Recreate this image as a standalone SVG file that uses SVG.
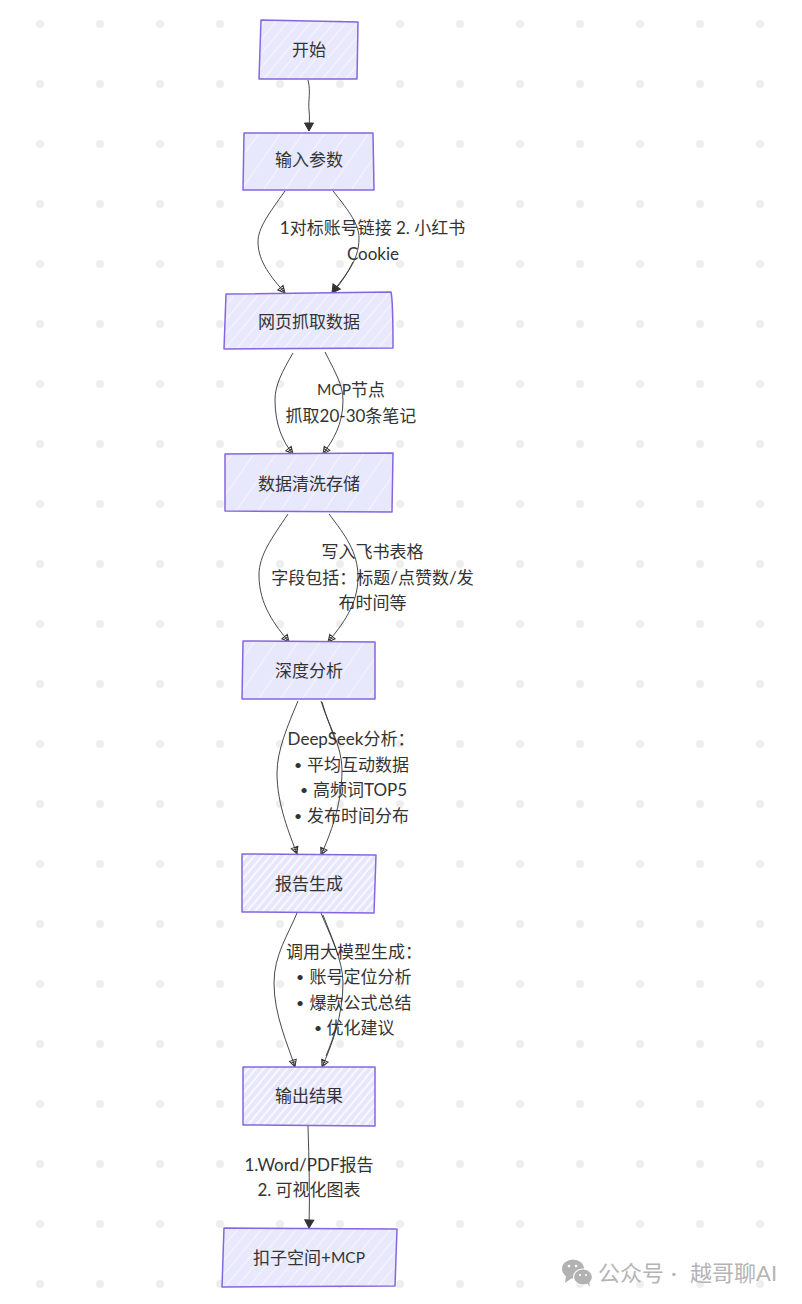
<svg xmlns="http://www.w3.org/2000/svg" width="802" height="1304" viewBox="0 0 802 1304">
<style>
text{font-family:"Lato","Noto Sans CJK SC",sans-serif;font-size:17px;fill:#333;text-anchor:middle;dominant-baseline:central}
.l{text-anchor:start}
.b{font-size:14px}
.m{font-size:15.500px}
.n{stroke:#8566e0;stroke-width:1.500;stroke-linejoin:round}
.e{fill:none;stroke:#333;stroke-width:.9}
.wm{font-size:22px;fill:#b4b4b4;text-anchor:start}
</style>
<defs>
<pattern id="dots" width="60" height="60" patternUnits="userSpaceOnUse"><circle cx="40" cy="24" r="4" fill="#eee"/></pattern>
<pattern id="h1" width="9" height="9" patternUnits="userSpaceOnUse" patternTransform="rotate(-50)"><rect width="9" height="9" fill="#e9e9fd"/><rect width="9" height="0.9" fill="#f7f7ff"/></pattern>
<pattern id="h2" width="18" height="18" patternUnits="userSpaceOnUse" patternTransform="rotate(-55)"><rect width="18" height="18" fill="#e8e8fd"/><rect width="18" height="0.9" fill="#f6f6ff"/></pattern>
<pattern id="h3" width="6" height="6" patternUnits="userSpaceOnUse" patternTransform="rotate(-50)"><rect width="6" height="6" fill="#e6e6fc"/><rect width="6" height="2" fill="#f8f8ff"/></pattern>
<marker id="s" markerWidth="10" markerHeight="12" refX="9" refY="6" orient="auto" markerUnits="userSpaceOnUse"><path d="M1,1.500L9,6L1,10.500Z" fill="#333" stroke="#333"/></marker>
<marker id="o" markerWidth="10" markerHeight="10" refX="9" refY="5" orient="auto" markerUnits="userSpaceOnUse"><path d="M2,1.500L9,5L2,8.500ZM4,2.500L4,7.500M6,3.500L6,6.500" fill="none" stroke="#333" stroke-width="1"/></marker>
</defs>
<rect width="802" height="1304" fill="#fff"/>
<rect width="802" height="1304" fill="url(#dots)"/>
<g id="connectors">
<path class="e" marker-end="url(#s)" d="M308,80C311,92 308,100 309,110C310,118 309,124 309,131"/>
<path class="e" marker-end="url(#o)" d="M285,191C268,215 258,228 258,242C258,262 272,278 285,293"/>
<path class="e" marker-end="url(#s)" d="M333,191C350,212 359,225 359,238C359,262 345,275 332,293"/>
<path class="e" d="M353,262C348,272 342,282 334,291"/>
<path class="e" marker-end="url(#o)" d="M293,353C282,372 275,385 275,400C275,425 283,442 293,454"/>
<path class="e" marker-end="url(#o)" d="M325,352C335,372 343,385 343,400C343,425 333,440 323,454"/>
<path class="e" marker-end="url(#o)" d="M288,514C272,538 259,555 259,575C259,605 275,625 289,642"/>
<path class="e" marker-end="url(#o)" d="M329,514C345,535 358,552 358,577C358,605 342,625 328,642"/>
<path class="e" marker-end="url(#o)" d="M298,701C288,725 277,750 277,773C277,805 290,835 297,854"/>
<path class="e" marker-end="url(#o)" d="M321,701C328,725 342,745 342,770C342,805 330,835 321,855"/>
<path class="e" d="M322,702C326,716 331,728 335,740"/>
<path class="e" marker-end="url(#o)" d="M297,913C288,935 274,955 274,983C274,1015 288,1045 295,1067"/>
<path class="e" marker-end="url(#o)" d="M321,913C330,935 343,960 343,983C343,1015 332,1045 322,1067"/>
<path class="e" d="M323,915C328,928 334,942 338,955"/>
<path class="e" d="M337,1025C334,1036 330,1046 326,1056"/>
<path class="e" marker-end="url(#s)" d="M308,1126C309,1160 310,1195 309,1228"/>
</g>
<g id="n1"><path class="n" fill="url(#h1)" d="M261,20L358,22L357,79L259,79Z"/><text x="309" y="49.500">开始</text></g>
<g id="n2"><path class="n" fill="url(#h2)" d="M244,133L373,133L374,190L243,190Z"/><text x="309" y="159">输入参数</text></g>
<g id="n3"><path class="n" fill="url(#h1)" d="M226,294L391,292Q393,300 393,348L224,349Z"/><text x="309" y="321">网页抓取数据</text></g>
<g id="n4"><path class="n" fill="url(#h2)" d="M225,454L393,453L392,512L225,511Z"/><text x="309" y="483">数据清洗存储</text></g>
<g id="n5"><path class="n" fill="url(#h2)" d="M243,641L375,642L375,699L242,699Z"/><text x="309" y="670">深度分析</text></g>
<g id="n6"><path class="n" fill="url(#h3)" d="M242,854L376,855L374,913L242,912Z"/><text x="309" y="883">报告生成</text></g>
<g id="n7"><path class="n" fill="url(#h3)" d="M243,1067L375,1067L375,1126L243,1125Z"/><text x="309" y="1095">输出结果</text></g>
<g id="n8"><path class="n" fill="url(#h1)" d="M224,1228L397,1229L395,1286L222,1287Z"/><text x="309" y="1257">扣子空间+<tspan class="m">MCP</tspan></text></g>
<g id="labels">
<text x="372.500" y="227">1对标账号链接 2. 小红书</text>
<text x="373" y="253">Cookie</text>
<text x="351" y="389"><tspan class="m">MCP</tspan>节点</text>
<text x="351" y="415">抓取20-30条笔记</text>
<text x="372.500" y="551">写入飞书表格</text>
<text x="372.500" y="577">字段包括：标题/点赞数/发</text>
<text x="372.500" y="602">布时间等</text>
<text x="351" y="738">DeepSeek分析：</text>
<text class="l" y="763.500"><tspan class="b" x="294">•</tspan><tspan x="307">平均互动数据</tspan></text>
<text class="l" y="789"><tspan class="b" x="300">•</tspan><tspan x="313">高频词TOP5</tspan></text>
<text class="l" y="815"><tspan class="b" x="294">•</tspan><tspan x="307">发布时间分布</tspan></text>
<text x="354" y="951">调用大模型生成：</text>
<text class="l" y="976"><tspan class="b" x="296">•</tspan><tspan x="309.500">账号定位分析</tspan></text>
<text class="l" y="1002"><tspan class="b" x="296">•</tspan><tspan x="309.500">爆款公式总结</tspan></text>
<text class="l" y="1027"><tspan class="b" x="314">•</tspan><tspan x="326.500">优化建议</tspan></text>
<text x="309" y="1164">1.Word/PDF报告</text>
<text x="309" y="1189">2. 可视化图表</text>
</g>
<g id="watermark">
<ellipse cx="573" cy="1269" rx="11" ry="9.500" fill="#b2b2b2"/><path d="M566,1276L565,1283L572,1278Z" fill="#b2b2b2"/>
<ellipse cx="583" cy="1277" rx="9.500" ry="8" fill="#b2b2b2" stroke="#fff" stroke-width="1.200"/><path d="M587,1283L590,1287L589,1281Z" fill="#b2b2b2"/>
<circle cx="569" cy="1266" r="1.300" fill="#fff"/><circle cx="576" cy="1266" r="1.300" fill="#fff"/><circle cx="580" cy="1275" r="1.100" fill="#fff"/><circle cx="586" cy="1275" r="1.100" fill="#fff"/>
<text class="wm" y="1272"><tspan x="598">公众号</tspan><tspan x="671">·</tspan><tspan x="690">越哥聊AI</tspan></text>
</g>
</svg>
